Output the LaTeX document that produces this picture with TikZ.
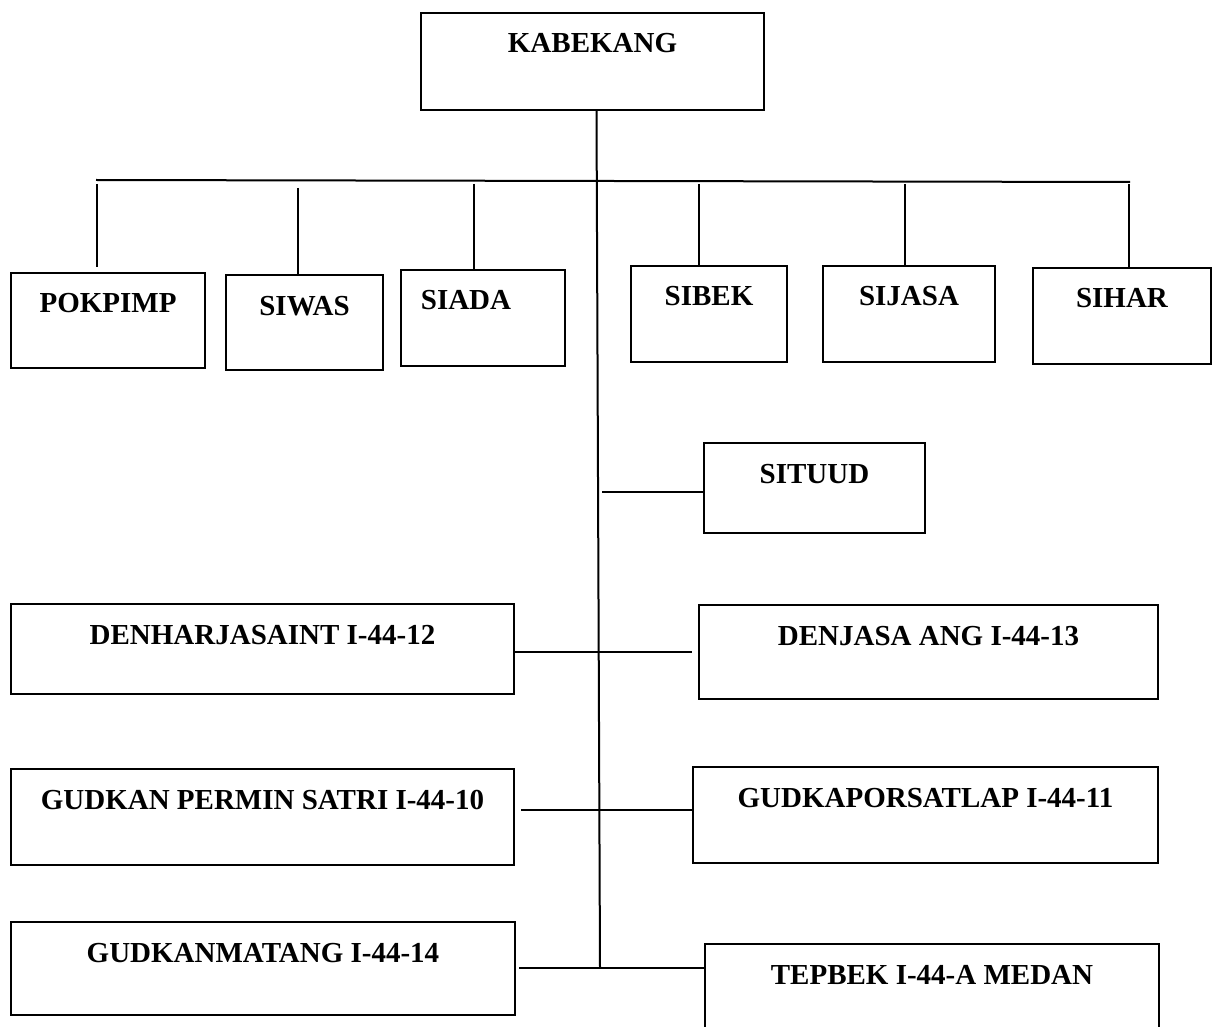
\documentclass[tikz,border=0pt]{standalone}
\usepackage{fontspec}
\setmainfont{Liberation Serif}
\tikzset{
    unit/.style={rectangle,draw,line width=1pt,inner sep=0pt,anchor=north west,text height=20pt,font=\bfseries\fontsize{14.5pt}{17pt}\selectfont},
    edge/.style={-,line width=1pt,draw=black},
}

\begin{document}
\begin{tikzpicture}[x=0.5pt,y=-0.5pt]
\useasboundingbox (0,0) rectangle (1216,1027);
\clip (0,0) rectangle (1216,1027);
\node[unit,minimum width=171.5pt,text depth=28.5pt] (kabekang) at (420,12) {KABEKANG};
\node[unit,minimum width=97pt,text depth=27.5pt] (pokpimp) at (10,272) {POKPIMP};
\node[unit,minimum width=78.5pt,text depth=27.5pt] (siwas) at (225,274) {SIWAS};
\node[unit,minimum width=82pt,text depth=28pt] (siada) at (400,269) {SIADA\hspace*{17pt}};
\node[unit,minimum width=78pt,text depth=28pt] (sibek) at (630,265) {SIBEK};
\node[unit,minimum width=86pt,text depth=28pt] (sijasa) at (822,265) {SIJASA};
\node[unit,minimum width=89pt,text depth=28pt] (sihar) at (1032,267) {SIHAR};
\node[unit,minimum width=110.5pt,text depth=25pt] (situud) at (703,442) {SITUUD};
\node[unit,minimum width=251.5pt,text depth=25pt] (denharj) at (10,603) {DENHARJASAINT I-44-12};
\node[unit,minimum width=229.5pt,text depth=27pt] (denjasa) at (698,604) {DENJASA ANG I-44-13};
\node[unit,minimum width=251.5pt,text depth=28pt] (gudkan) at (10,768) {GUDKAN PERMIN SATRI I-44-10};
\node[unit,minimum width=232.5pt,text depth=28pt] (gudkap) at (692,766) {GUDKAPORSATLAP I-44-11};
\node[unit,minimum width=252pt,text depth=26.5pt] (gudkanmatang) at (10,921) {GUDKANMATANG I-44-14};
\node[unit,minimum width=227pt,text depth=30pt] (tepbek) at (704,943) {TEPBEK I-44-A MEDAN};

\coordinate (barL) at (96,180);
\coordinate (barR) at (1130,182);
\coordinate (d1) at (97,184);
\coordinate (d2) at (298,188);
\coordinate (d3) at (474,184);
\coordinate (d4) at (699,184);
\coordinate (d5) at (905,184);
\coordinate (d6) at (1129,184);
\coordinate (t1) at (602,492);
\coordinate (r1) at (600,652);
\coordinate (r2) at (600,810);
\coordinate (r3) at (600,968);

\draw[edge] ([xshift=2pt]kabekang.south) -- (r3);
\draw[edge] (barL) -- (barR);
\draw[edge,shorten >=2.5pt] (d1) -- (d1 |- pokpimp.north);
\draw[edge] (d2) -- (d2 |- siwas.north);
\draw[edge] (d3) -- (d3 |- siada.north);
\draw[edge] (d4) -- (d4 |- sibek.north);
\draw[edge] (d5) -- (d5 |- sijasa.north);
\draw[edge] (d6) -- (d6 |- sihar.north);
\draw[edge] (t1) -- (t1 -| situud.west);
\draw[edge,shorten >=3pt] (r1 -| denharj.east) -- (r1 -| denjasa.west);
\draw[edge,shorten <=3pt] (r2 -| gudkan.east) -- (r2 -| gudkap.west);
\draw[edge,shorten <=1.5pt] (r3 -| gudkanmatang.east) -- (r3 -| tepbek.west);
\end{tikzpicture}
\end{document}
